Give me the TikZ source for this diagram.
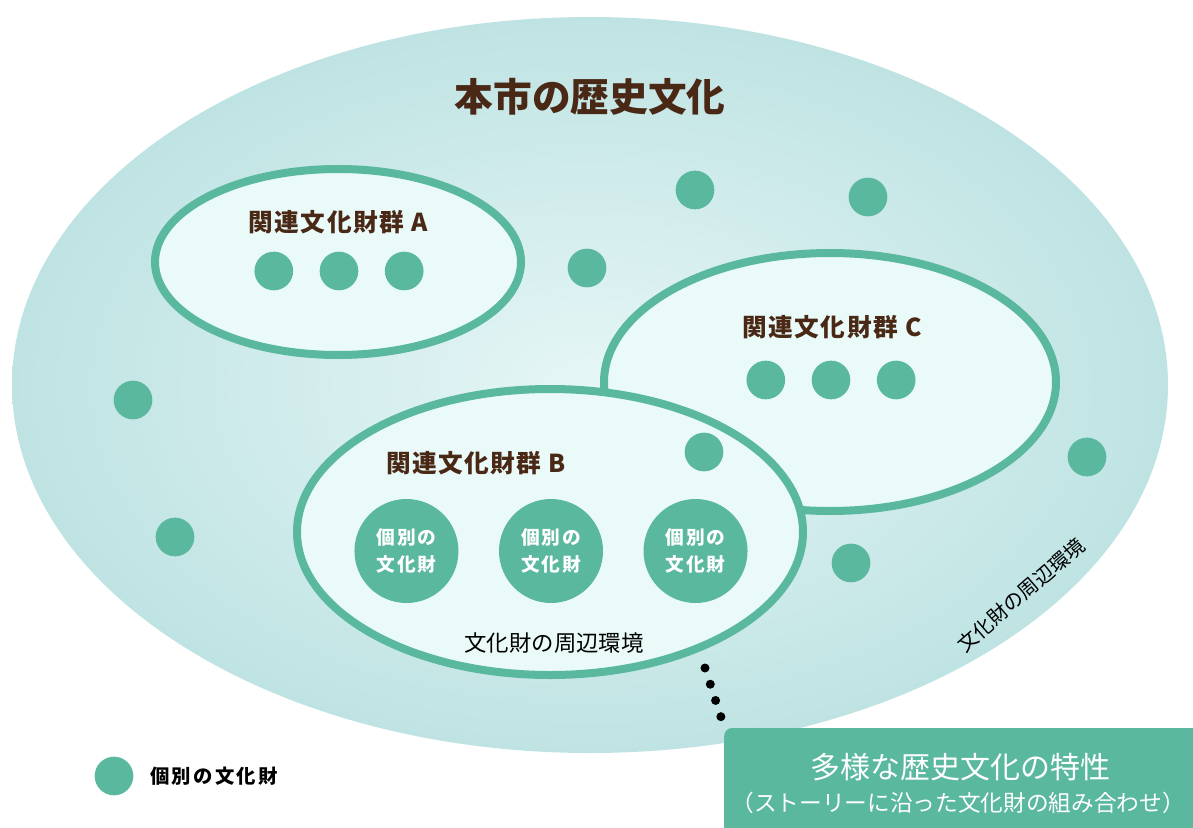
\documentclass[tikz,border=0pt]{standalone}
\usepackage{fontspec}
\setmainfont{Noto Sans CJK JP}
\usetikzlibrary{shapes.geometric,positioning}
\definecolor{jade}{HTML}{5AB89F}
\definecolor{mist}{HTML}{BFE3E3}
\definecolor{haze}{HTML}{E6F6F6}
\definecolor{pale}{HTML}{E9FAF8}
\definecolor{bark}{HTML}{4A2816}
\newcommand{\spaced}[1]{\addfontfeature{LetterSpace=#1}}
\tikzset{
  group/.style={ellipse, draw=jade, line width=6pt, fill=pale},
  item/.style={circle, fill=jade, minimum size=29pt, inner sep=0pt},
  bigitem/.style={circle, fill=jade, minimum size=78pt, inner sep=0pt, text=white,
    align=center, font=\bfseries\fontsize{14}{20}\selectfont\spaced{10}},
  grouplabel/.style={text=bark, font=\bfseries\fontsize{18.5}{20}\selectfont\spaced{6}},
  envlabel/.style={font=\fontsize{16.8}{18}\selectfont},
  dotline/.style={line width=6.75pt, line cap=round, dash pattern=on 0pt off 12.8pt}
}
\begin{document}
\begin{tikzpicture}[x=0.75pt,y=-0.75pt]
\useasboundingbox (0,0) rectangle (1193,828);
% the whole city
\node[ellipse, minimum width=867pt, minimum height=552pt, inner color=haze, outer color=mist] (city) at (590,385) {};
\node[text=bark, font=\bfseries\fontsize{29}{32}\selectfont] (title) at (590,97) {本市の歴史文化};
% group A
\node[group, minimum width=274.5pt, minimum height=139.5pt] (groupA) at (338,262) {};
\node[grouplabel] (labelA) at (338,222) {関連文化財群 A};
\node[item] (a2) at (339,271) {};
\node[item, left=19.5pt of a2] (a1) {};
\node[item, right=19.5pt of a2] (a3) {};
% group C
\node[group, minimum width=339pt, minimum height=193.5pt] (groupC) at (830,382) {};
\node[grouplabel] (labelC) at (832,327) {関連文化財群 C};
\node[item] (c2) at (831,380) {};
\node[item, left=19.5pt of c2] (c1) {};
\node[item, right=19.5pt of c2] (c3) {};
% group B
\node[group, minimum width=379.5pt, minimum height=214.5pt] (groupB) at (550,532) {};
\node[grouplabel] (labelB) at (476,463) {関連文化財群 B};
\node[bigitem] (b2) at (551,551) {個別の\\文化財};
\node[bigitem, left=30pt of b2] (b1) {個別の\\文化財};
\node[bigitem, right=30pt of b2] (b3) {個別の\\文化財};
\node[envlabel] (envB) at (554,643) {文化財の周辺環境};
% single items
\foreach \px/\py [count=\i] in {695/190, 868/197, 587/268, 133/400, 175/537, 704/452, 1087/457, 851/563}
  \node[item] (s\i) at (\px,\py) {};
\node[envlabel, font=\fontsize{15}{16}\selectfont, rotate=41] (envcity) at (1021,595) {文化財の周辺環境};
% legend
\node[item] (legenddot) at (114,776) {};
\node[right=9pt of legenddot, font=\bfseries\fontsize{14.5}{15}\selectfont\spaced{12}] (legendtext) {個別の文化財};
% feature box
\node[fill=jade, rounded corners=6pt, minimum width=359pt, minimum height=82.5pt] (feature) at (963.5,783) {};
\node[text=white, font=\fontsize{22.5}{25}\selectfont] (featuretitle) at (960,767) {多様な歴史文化の特性};
\node[text=white, font=\fontsize{17}{18}\selectfont] (featurenote) at (958,803) {（ストーリーに沿った文化財の組み合わせ）};
\coordinate (leadtop) at (705,668);
\coordinate (leadend) at (721,717);
\draw[dotline] (leadtop) -- (leadend);
\end{tikzpicture}
\end{document}
